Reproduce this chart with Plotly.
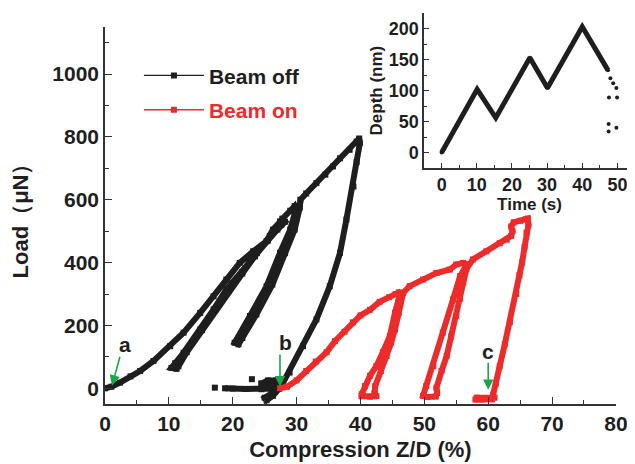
import plotly.graph_objects as go

# ---------------- data ----------------
# Beam off: compression Z/D (%) vs load (uN)
off_x = [0, 1, 2.35, 4, 5.5, 7.6, 10.2, 12.3, 14.9, 17, 19, 21.1, 23.2, 25.3, 26.3, 27.4, 27.8,
         28.2, 27.6,
         27, 25.5, 23.5, 21.5, 20, 19, 17, 14.9, 12.3, 11, 10.4, 11.2,
         11.5, 12.8, 15.2, 17.3, 19.4, 21.5, 23.8, 25.8, 27.8, 29, 29.7,
         29.9, 29, 27.4, 25.3, 22.7, 20.3,
         20.9, 21.5, 23.7, 26.2, 28.2, 29.7, 30.5, 30.6,
         31.5, 33.1, 34.5, 35.7, 36.8, 38.3, 39.4, 39.8,
         39.9, 39.4, 38.9, 37.8, 36.8, 35.2, 33.1, 31, 28.9, 27.6, 26.3, 25.3, 25, 26.5, 27.2,
         26.5, 24.5, 22, 20, 18.8,
         None,
         24.5, 25.5, 26.8, 27.2, 26.5, 25, 24.5,
         None, 17.2, None, 23]
off_y = [0, 5, 18, 38, 55, 87, 134, 177, 240, 293, 346, 399, 436, 468, 505, 531, 538,
         530, 520,
         505, 470, 420, 370, 335, 314, 251, 187, 113, 80, 65, 62,
         70, 115, 185, 250, 310, 365, 430, 485, 540, 565, 580,
         570, 505, 431, 325, 230, 145,
         140, 160, 235, 330, 430, 505, 575, 600,
         620, 653, 680, 706, 732, 759, 785, 795,
         780, 720, 642, 537, 431, 325, 219, 134, 50, 7, -24, -38, -30, -10, -2,
         -1, -3, -2, -1, 0,
         None,
         15, 25, 25, 15, 5, 8, 15,
         None, 2, None, 29]

# Beam on
on_x = [27.4, 28.5, 30, 31.5, 33, 34.7, 36, 37.5, 38.8, 40, 41.5, 43, 44.5, 45.5, 46, 46.3, 46,
        45.4, 44.6, 43.5, 42.5, 41.5, 40.7, 40.2, 40.2, 41.5, 42.5, 42.2,
        42.3, 43.2, 44.1, 44.8, 45.4, 46, 46.2, 46.7,
        47.7, 49.8, 51.9, 54, 55, 56.1, 56.6, 56.4,
        55.6, 54.5, 52.9, 51.4, 50.3, 49.8, 50.5, 51.8, 52,
        51.9, 52.7, 53.5, 54.2, 55, 55.6, 56.1, 56.6,
        57.6, 59.7, 61.8, 62.9, 63.6, 63.8, 63.6, 64, 65, 65.9, 66.2,
        66.3, 66, 65.7, 65.3, 64.9, 64.4, 63.4, 62.6, 61.8, 61.2, 60.8, 60.6, 59, 58, 58.2, 61]
on_y = [0, 5, 25, 55, 85, 115, 150, 180, 210, 232, 250, 275, 290, 300, 305, 298, 285,
        240, 166, 115, 71, 40, 7, -19, -25, -27, -25, -15,
        7, 55, 103, 145, 187, 240, 272, 304,
        325, 346, 367, 378, 394, 399, 395, 385,
        357, 283, 177, 71, 7, -24, -28, -26, -15,
        2, 55, 103, 165, 230, 285, 336, 380,
        410, 436, 462, 473, 485, 500, 515, 528, 533, 538, 540,
        520, 495, 450, 400, 360, 300, 210, 140, 70, 15, -20, -35, -36, -36, -30, -30]

# Inset: depth (nm) vs time (s)
inset_t = [0, 10.1, 15.4, 25.1, 30.1, 40, 47.3, None, 48, None, 48.8, None, 49.7, None,
           47.6, None, 49.9, None, 47.5, None, 47.5, None, 49.7]
inset_d = [0, 102, 56, 153, 104, 203, 133, None, 120, None, 112, None, 104, None,
           89, None, 89, None, 46, None, 34, None, 40]

# annotation labels
marks = ["a", "b", "c"]
mark_x = [1.1, 27.4, 60.0]
mark_label_y = [140, 146, 118]
mark_tail_y = [105, 112, 86]
mark_tip_y = [8, 6, -5]
mark_label_x = [3.1, 28.2, 60.0]
mark_tail_x = [2.4, 27.4, 60.0]

BLACK = "#1e1e1e"
RED = "#ec2b2b"
GREEN = "#1aa64b"
FONT = "Liberation Sans"

fig = go.Figure()

fig.add_trace(go.Scatter(x=off_x, y=off_y, mode="lines+markers", showlegend=False,
                         line=dict(color=BLACK, width=6), marker=dict(symbol="square", size=6, color=BLACK),
                         xaxis="x", yaxis="y"))
fig.add_trace(go.Scatter(x=on_x, y=on_y, mode="lines+markers", showlegend=False,
                         line=dict(color=RED, width=6), marker=dict(symbol="square", size=6, color=RED),
                         xaxis="x", yaxis="y"))
# legend entries
fig.add_trace(go.Scatter(x=[None], y=[None], mode="lines+markers", name="Beam off", legendgroup="a",
                         line=dict(color=BLACK, width=1.3), marker=dict(symbol="square", size=6, color=BLACK)))
fig.add_trace(go.Scatter(x=[None], y=[None], mode="lines+markers",
                         name="<span style='color:%s'>Beam on</span>" % RED, legendgroup="b",
                         line=dict(color=RED, width=1.3), marker=dict(symbol="square", size=6, color=RED)))

fig.add_trace(go.Scatter(x=inset_t, y=inset_d, mode="lines+markers", showlegend=False,
                         line=dict(color=BLACK, width=5), marker=dict(symbol="circle", size=4, color=BLACK),
                         xaxis="x2", yaxis="y2"))

for lab, mx, ly, ty, py, lx, tx in zip(marks, mark_x, mark_label_y, mark_tail_y, mark_tip_y,
                                       mark_label_x, mark_tail_x):
    fig.add_annotation(x=mx, y=py, ax=tx, ay=ty, xref="x", yref="y", axref="x", ayref="y",
                       text="", showarrow=True, arrowhead=2, arrowsize=1.3, arrowwidth=1.6,
                       arrowcolor=GREEN)
    fig.add_annotation(x=lx, y=ly, xref="x", yref="y", text=lab, showarrow=False,
                       font=dict(family=FONT, size=21, color=BLACK, weight="bold"))

axis_common = dict(showline=True, linecolor="#333333", linewidth=1.5, ticks="inside",
                   tickcolor="#333333", tickwidth=1.3, showgrid=False, zeroline=False,
                   automargin=False)

# page body has an 8px margin, so the figure is sized to the visible area
fig.update_layout(
    width=627, height=456,
    margin=dict(l=97, r=0, t=2, b=60),
    paper_bgcolor="white", plot_bgcolor="white",
    font=dict(family=FONT, color=BLACK),
    xaxis=dict(domain=[0, 0.964], range=[0, 80], dtick=10, ticklen=7,
               minor=dict(dtick=5, ticklen=4, ticks="inside", tickcolor="#333333"),
               tickfont=dict(size=21, weight="bold"),
               title=dict(text="Compression Z/D (%)", font=dict(size=22, weight="bold"), standoff=8),
               anchor="y", **axis_common),
    yaxis=dict(domain=[0, 0.957], range=[-50, 1150], tickvals=[0, 200, 400, 600, 800, 1000], ticklen=7,
               minor=dict(dtick=100, ticklen=4, ticks="inside", tickcolor="#333333"),
               tickfont=dict(size=21, weight="bold"),
               title=dict(text="Load\uff08\u03bcN\uff09", font=dict(size=22, weight="bold"), standoff=20),
               anchor="x", **axis_common),
    xaxis2=dict(domain=[0.602, 1.0], range=[-5, 55], dtick=10, ticklen=5,
                minor=dict(dtick=5, ticklen=3, ticks="inside", tickcolor="#333333"),
                tickfont=dict(size=18, weight="bold"),
                title=dict(text="Time (s)", font=dict(size=17, weight="bold"), standoff=2),
                anchor="y2", **axis_common),
    yaxis2=dict(domain=[0.599, 0.992], range=[-25, 225], dtick=50, ticklen=5,
                minor=dict(dtick=25, ticklen=3, ticks="inside", tickcolor="#333333"),
                tickfont=dict(size=18, weight="bold"),
                title=dict(text="Depth (nm)", font=dict(size=17, weight="bold"), standoff=2),
                anchor="x2", **axis_common),
    legend=dict(x=0.064, y=0.885, xanchor="left", yanchor="top", bgcolor="rgba(0,0,0,0)",
                font=dict(size=21, weight="bold", color=BLACK), tracegroupgap=4,
                itemwidth=60),
)

fig.write_html("out.html")
